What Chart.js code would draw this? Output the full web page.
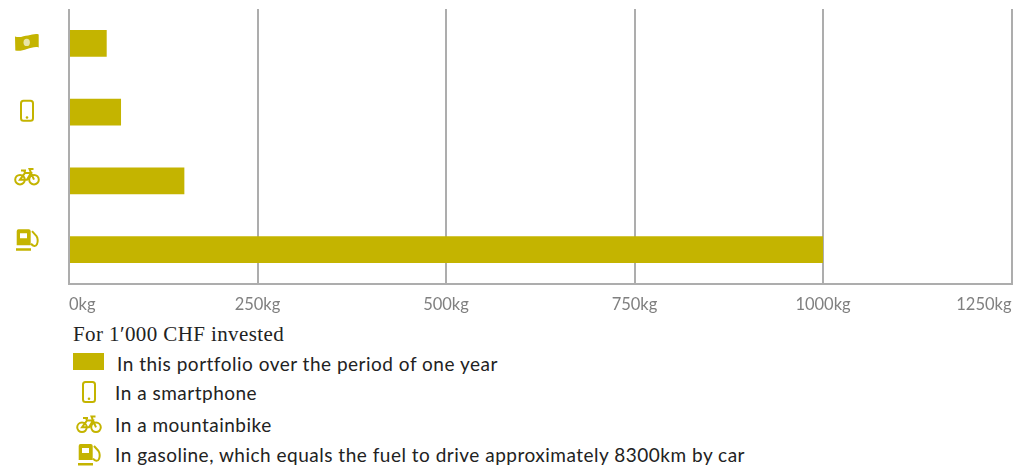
<!DOCTYPE html>
<html>
<head>
<meta charset="utf-8">
<script src="https://cdn.jsdelivr.net/npm/chart.js@4"></script>
<style>
  html, body { margin: 0; padding: 0; background: #fff; }
  body { width: 1016px; height: 471px; overflow: hidden; position: relative; }
  #chart-wrap { position: absolute; left: 0; top: 0; width: 1016px; height: 320px; }
  #legend { position: absolute; left: 73px; top: 320px; font-family: Lato, sans-serif; font-size: 19px; letter-spacing: 0.5px; color: #222; }
  #legend .title { position: absolute; left: 0; top: 2px; white-space: nowrap; font-family: "Liberation Serif", serif; font-size: 21px; letter-spacing: 0.4px; }
  #legend .row { position: absolute; left: 0; height: 30px; line-height: 30px; white-space: nowrap; }
  #legend svg, #legend .swatch { position: absolute; overflow: visible; }
  #legend .swatch { left: 0; top: 5px; width: 31px; height: 17px; background: #c4b400; }
  #legend .text { position: absolute; left: 42px; top: 0; }
</style>
</head>
<body>
<div id="chart-wrap"><canvas id="chart"></canvas></div>
<div id="legend"></div>
<script>
const CATEGORIES = ['money', 'smartphone', 'bike', 'gasoline'];
const VALUES = [50, 69, 153, 1000];
const TICK_VALUES = [0, 250, 500, 750, 1000, 1250];
const LEGEND_TITLE = 'For 1\u2032000 CHF invested';
const LEGEND_LABELS = [
  'In this portfolio over the period of one year',
  'In a smartphone',
  'In a mountainbike',
  'In gasoline, which equals the fuel to drive approximately 8300km by car'
];
const LEGEND_ICONS = [null, 'smartphone', 'bike', 'gasoline'];

const GOLD = '#c4b400';
const GRID = '#adadad';

// icon outlines, 24 unit box centred on 12,12
const ICONS = {
  money: {
    fill: 'M0 6C5 8 9 5 13 5C17 4.500 20 3 23.700 4V17C20 16 16 17.500 12 18.500C8 20 4 21 0.300 20Z'
  },
  smartphone: {
    stroke: 'M8.500 2H15.500A2.500 2.500 0 0 1 18 4.500V19.500A2.500 2.500 0 0 1 15.500 22H8.500A2.500 2.500 0 0 1 6 19.500V4.500A2.500 2.500 0 0 1 8.500 2Z',
    fill: 'M12 17.500A1.300 1.300 0 1 0 12 20.100A1.300 1.300 0 1 0 12 17.500Z'
  },
  bike: {
    stroke: 'M5 11.500A4.800 4.800 0 1 0 5 21.100A4.800 4.800 0 1 0 5 11.500ZM19 11.500A4.800 4.800 0 1 0 19 21.100A4.800 4.800 0 1 0 19 11.500ZM5 16.300L10 9.500H16L12 16.300ZM16 9.500L14.500 5.500H18.500M16 9.500L19 16.300M6 7H11M10 9.500L9 7'
  },
  gasoline: {
    fill: 'M3.500 1H13.700A2 2 0 0 1 15.700 3V17H1.700V3A2 2 0 0 1 3.500 1ZM5 5V10H12V5ZM1 20H16V22.500H1Z',
    stroke: 'M17 3L21.500 8C23 10 23 14 22 16C21 18.500 18 18.500 16 15.500'
  }
};
// small vertical shift of each axis icon away from its band centre
const ICON_SHIFT = [-1, -1.5, -5.500, -9.500];

const iconAxisPlugin = {
  id: 'iconAxis',
  afterDraw(chart) {
    const { ctx, scales } = chart;
    ctx.save();
    ctx.fillStyle = GOLD;
    ctx.strokeStyle = GOLD;
    ctx.lineWidth = 2;
    CATEGORIES.forEach((name, i) => {
      const y = scales.y.getPixelForTick(i) + ICON_SHIFT[i];
      const icon = ICONS[name];
      ctx.save();
      ctx.translate(27 - 12, y - 12);
      if (icon.fill) ctx.fill(new Path2D(icon.fill), 'evenodd');
      if (icon.stroke) ctx.stroke(new Path2D(icon.stroke));
      if (name === 'money') {
        ctx.fillStyle = '#e9e5a6';
        ctx.beginPath();
        ctx.ellipse(11.7, 12, 3.2, 3.700, 0, 0, Math.PI * 2);
        ctx.fill();
      }
      ctx.restore();
    });
    ctx.restore();
  }
};

new Chart(document.getElementById('chart'), {
  type: 'bar',
  data: {
    labels: CATEGORIES,
    datasets: [{
      data: VALUES,
      backgroundColor: GOLD,
      borderWidth: 0,
      categoryPercentage: 0.39,
      barPercentage: 1
    }]
  },
  options: {
    indexAxis: 'y',
    animation: false,
    responsive: true,
    maintainAspectRatio: false,
    layout: { padding: { top: 9, right: 4.500, left: 0, bottom: 0 } },
    plugins: { legend: { display: false }, tooltip: { enabled: false } },
    scales: {
      x: {
        min: 0,
        max: 1250,
        afterBuildTicks: (axis) => { axis.ticks = TICK_VALUES.map((value) => ({ value })); },
        afterFit: (axis) => {
          axis.height = 36;
          axis.paddingLeft = 0;
          axis.paddingRight = 0;
        },
        ticks: {
          align: 'inner',
          maxRotation: 0,
          padding: 11,
          color: '#808080',
          font: { family: 'Lato, sans-serif', size: 16.5 },
          callback: (value) => `${value}kg`
        },
        grid: { color: GRID, lineWidth: 2, drawTicks: false },
        border: { color: GRID, width: 2 }
      },
      y: {
        afterFit: (axis) => { axis.width = 69; },
        ticks: { display: false },
        grid: { display: false, drawTicks: false },
        border: { display: false }
      }
    }
  },
  plugins: [iconAxisPlugin]
});

// legend under the chart
const legend = document.getElementById('legend');
const title = document.createElement('div');
title.className = 'title';
title.textContent = LEGEND_TITLE;
legend.appendChild(title);

const ROW_TOPS = [29, 58, 90, 120];
const ICON_TOPS = [0, 1.7, 1, 2.500];
LEGEND_LABELS.forEach((label, i) => {
  const row = document.createElement('div');
  row.className = 'row';
  row.style.top = `${ROW_TOPS[i]}px`;
  let mark = '<div class="swatch" style="top:4px"></div>';
  const icon = ICONS[LEGEND_ICONS[i]];
  if (icon) {
    const fillPath = icon.fill ? `<path fill="${GOLD}" fill-rule="evenodd" d="${icon.fill}"/>` : '';
    const strokePath = icon.stroke ? `<path fill="none" stroke="${GOLD}" stroke-width="2" d="${icon.stroke}"/>` : '';
    mark = `<svg width="24" height="24" viewBox="0 0 24 24" style="left:3.500px;top:${ICON_TOPS[i]}px">${fillPath}${strokePath}</svg>`;
  }
  row.innerHTML = `${mark}<span class="text"${i === 0 ? ' style="left:44px"' : ''}>${label}</span>`;
  legend.appendChild(row);
});
</script>
</body>
</html>
